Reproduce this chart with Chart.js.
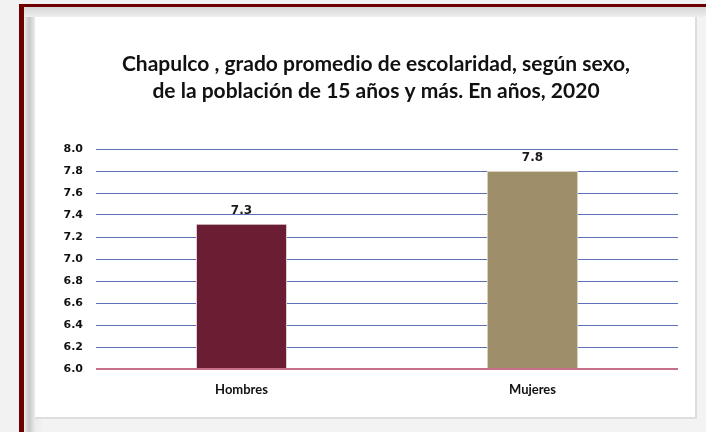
<!DOCTYPE html>
<html>
<head>
<meta charset="utf-8">
<script src="https://cdn.jsdelivr.net/npm/chart.js@4.4.1/dist/chart.umd.min.js"></script>
<style>
    html, body { margin: 0; padding: 0; }
    body { width: 706px; height: 432px; position: relative; overflow: hidden; background: #f3f2f3; }
    .frame-top { position: absolute; left: 19px; top: 4px; width: 687px; height: 3px; background: #6e0000; }
    .frame-left { position: absolute; left: 19px; top: 4px; width: 5px; height: 428px; background: #6e0000; }
    .shadow { position: absolute; left: 24px; top: 7px; width: 682px; height: 425px;
        background: linear-gradient(to right, #ededed, #c6c6c6 5px, #ececec 11px, #f4f3f4 20px); }
    .shadow-top { position: absolute; left: 24px; top: 7px; width: 682px; height: 10px;
        background: linear-gradient(to bottom, #d6d6d6, #eeeeee); }
    .panel { position: absolute; left: 35px; top: 17px; width: 660px; height: 400px;
        background: #ffffff; box-shadow: 1px 1px 0 1px #dedede; }
    canvas { display: block; }
</style>
</head>
<body>
<div class="shadow"></div>
<div class="shadow-top"></div>
<div class="frame-top"></div>
<div class="frame-left"></div>
<div class="panel">
    <canvas id="chartEscolaridad" width="660" height="400"></canvas>
</div>
<script>
const categorias = ['Hombres', 'Mujeres'];
const valores = [7.32, 7.8];
const etiquetas = ['7.3', '7.8'];
const colores = ['#6b1d33', '#9e8f6a'];
const titulo = [
    'Chapulco , grado promedio de escolaridad, según sexo,',
    'de la población de 15 años y más. En años, 2020'
];

// titulo centrado a mano, como en el original (no sobre el area del grafico)
const tituloPlugin = {
    id: 'tituloPlugin',
    afterDraw(chart) {
        const ctx = chart.ctx;
        ctx.save();
        ctx.font = 'bold 21px Lato';
        ctx.fillStyle = '#111111';
        ctx.textAlign = 'center';
        ctx.textBaseline = 'middle';
        titulo.forEach((linea, i) => ctx.fillText(linea, 341, 47 + i * 27));
        ctx.restore();
    }
};

// linea base rosada en 6.0
const lineaBase = {
    id: 'lineaBase',
    afterDatasetsDraw(chart) {
        const ctx = chart.ctx;
        const y = Math.round(chart.scales.y.getPixelForValue(6));
        ctx.save();
        ctx.strokeStyle = '#c8708a';
        ctx.lineWidth = 2;
        ctx.beginPath();
        ctx.moveTo(chart.chartArea.left, y);
        ctx.lineTo(chart.chartArea.right, y);
        ctx.stroke();
        ctx.restore();
    }
};

const valueLabels = {
    id: 'valueLabels',
    afterDatasetsDraw(chart) {
        const ctx = chart.ctx;
        const meta = chart.getDatasetMeta(0);
        ctx.save();
        ctx.font = 'bold 12px "DejaVu Sans"';
        ctx.fillStyle = '#1a1a1a';
        ctx.textAlign = 'center';
        ctx.textBaseline = 'middle';
        meta.data.forEach((bar, i) => {
            ctx.fillText(etiquetas[i], bar.x, bar.y - 13);
        });
        ctx.restore();
    }
};

new Chart(document.getElementById('chartEscolaridad'), {
    type: 'bar',
    data: {
        labels: categorias,
        datasets: [{
            data: valores,
            backgroundColor: colores,
            borderColor: ['#e2d3d8', '#d8d2bf'],
            borderWidth: 1,
            categoryPercentage: 1,
            barPercentage: 0.313
        }]
    },
    options: {
        responsive: false,
        animation: false,
        layout: { padding: { left: 0, right: 17, top: 132, bottom: 0 } },
        plugins: {
            legend: { display: false },
            tooltip: { enabled: false },
            title: { display: false }
        },
        scales: {
            y: {
                min: 6,
                max: 8,
                afterFit: s => { s.width = 61; },
                border: { display: false },
                grid: {
                    drawTicks: false,
                    color: '#5f70b8',
                    lineWidth: 1
                },
                ticks: {
                    stepSize: 0.2,
                    padding: 13,
                    color: '#111111',
                    font: { family: 'DejaVu Sans', weight: 'bold', size: 11 },
                    callback: v => v.toFixed(1)
                }
            },
            x: {
                afterFit: s => { s.height = 48; },
                border: { display: false },
                grid: { display: false },
                ticks: {
                    padding: 5,
                    color: '#111111',
                    font: { family: 'Lato', weight: 'bold', size: 13 }
                }
            }
        }
    },
    plugins: [lineaBase, valueLabels, tituloPlugin]
});
</script>
</body>
</html>
